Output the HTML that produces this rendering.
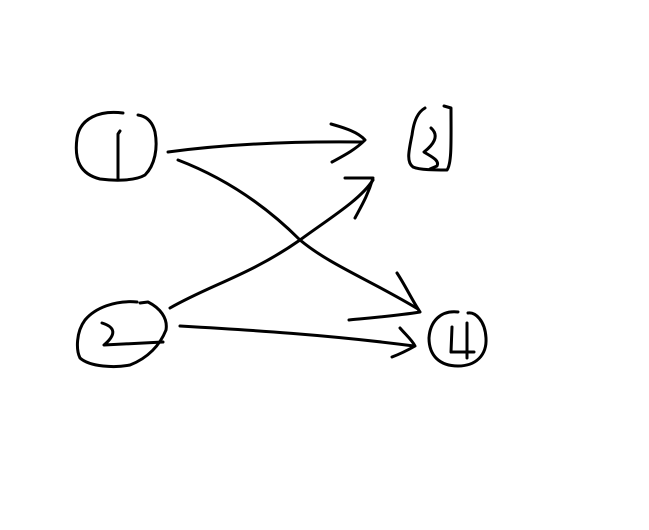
<!DOCTYPE html>
<html><head><meta charset="utf-8"><style>
html,body{margin:0;padding:0;background:#fff;width:649px;height:530px;overflow:hidden}
svg{display:block}
path{fill:none;stroke:#000;stroke-width:3;stroke-linecap:round;stroke-linejoin:round}
</style></head><body>
<svg width="649" height="530" viewBox="0 0 649 530">
<!-- node 1 -->
<path d="M123,113 C100,110 80,118 77,138 C74,160 80,174 100,179 C115,181 135,181 145,175 C155,165 158,148 155,132 C152,120 145,116 138,115"/>
<path d="M120,131 L118,134 L118,179"/>
<!-- node 3 -->
<path d="M425,108 C418,112 414,120 412,135 C409,150 406,162 413,167 C420,170 435,170 447,170 C452,163 451,140 451,108 L444,106"/>
<path d="M431,128 C440,136 433,145 424,152 C430,156 440,160 437,166 L430,169"/>
<!-- node 2 -->
<path d="M137,302 C115,300 95,308 85,320 C76,332 76,350 80,358 C90,367 115,368 130,365 C148,358 160,345 166,330 C168,318 160,308 148,302 L140,303"/>
<path d="M102,323 C115,327 117,334 104,345 L163,342"/>
<!-- node 4 -->
<path d="M458,312 C440,310 430,322 429,338 C429,356 440,366 458,366 C476,366 487,355 486,338 C485,320 475,312 468,313"/>
<path d="M452,327 L451,352 L474,352 M467,323 L467,358"/>
<!-- arrow 1->3 -->
<path d="M168,152 C220,145 280,141 362,142"/>
<path d="M331,124 C345,128 358,132 365,140 C355,150 343,156 332,162"/>
<!-- arrow 1->4 -->
<path d="M178,160 C225,178 265,205 300,240 C330,265 370,280 418,309"/>
<path d="M397,273 C405,285 412,300 420,312 C395,316 370,318 349,320"/>
<!-- arrow 2->3 -->
<path d="M170,308 C210,285 250,275 300,240 C330,218 360,200 373,180"/>
<path d="M345,178 L373,178 C368,195 362,205 355,218"/>
<!-- arrow 2->4 -->
<path d="M180,326 C250,330 330,335 414,346"/>
<path d="M400,328 C406,335 412,340 415,346 C408,350 400,354 392,357"/>
</svg>
</body></html>
